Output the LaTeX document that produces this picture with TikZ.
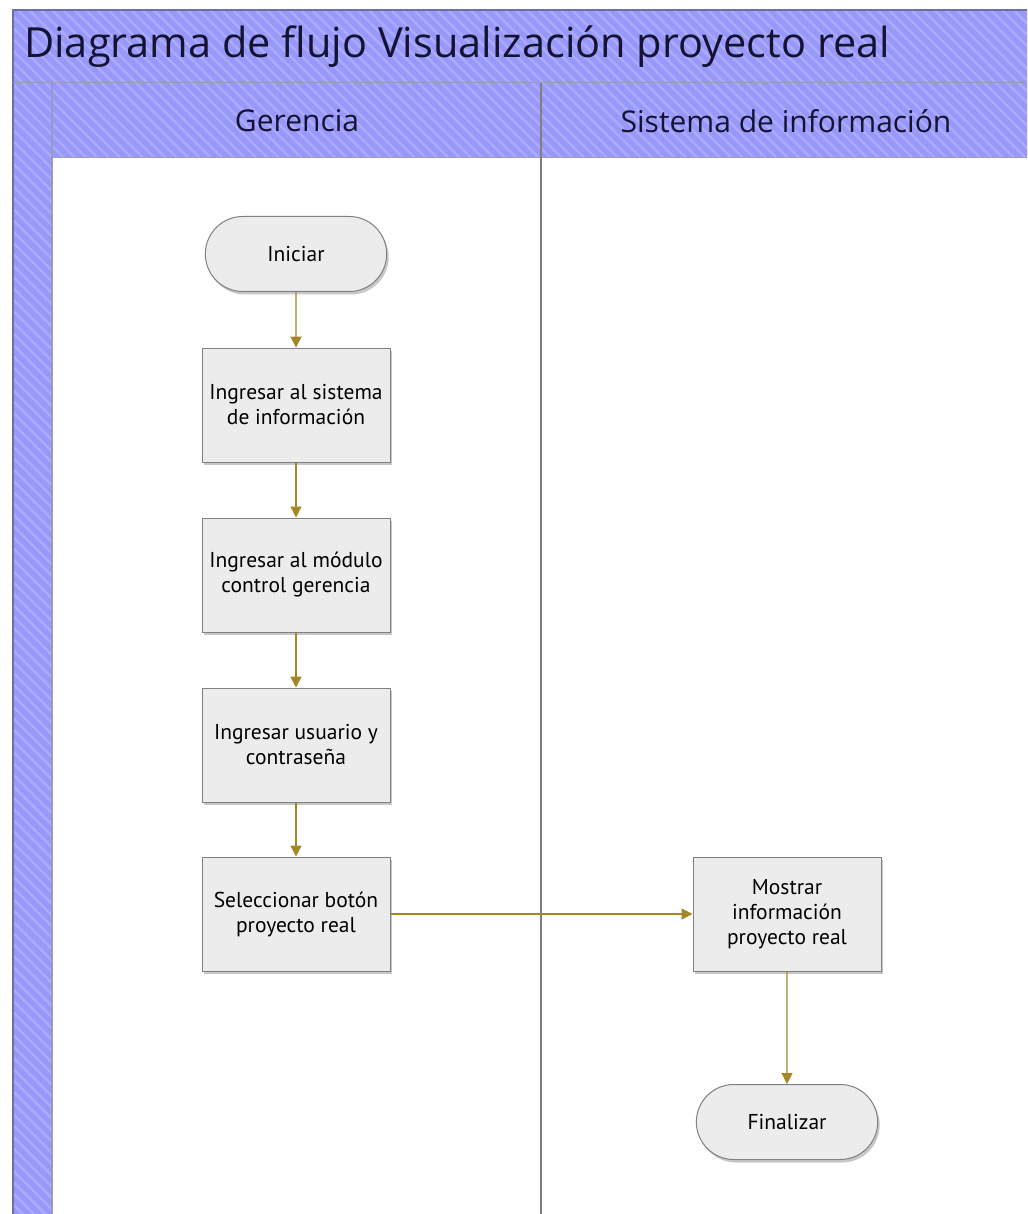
\documentclass[tikz,border=0pt]{standalone}
\usepackage{fontspec}
\setmainfont{Open Sans}
\newfontfamily\nodefont{PT Sans}
\usetikzlibrary{shapes.misc,arrows.meta,patterns.meta}

\definecolor{bandblue}{RGB}{152,152,250}
\definecolor{stripe}{RGB}{170,170,255}
\definecolor{framec}{RGB}{110,110,160}
\definecolor{laneline}{RGB}{128,128,128}
\definecolor{flow}{RGB}{165,135,40}
\definecolor{boxfill}{RGB}{236,236,236}
\definecolor{boxline}{RGB}{128,128,128}
\definecolor{inkc}{RGB}{20,20,50}

\tikzset{
  stepbox/.style={draw=boxline, fill=boxfill, line width=1pt,
    minimum width=188pt, minimum height=114pt, align=center,
    font=\nodefont\fontsize{21.5}{25}\selectfont, text=black,
    preaction={fill=black!22, transform canvas={shift={(2pt,-3pt)}}}},
  termbox/.style={stepbox, rounded rectangle, minimum height=75pt},
  flowline/.style={draw=flow, line width=1.3pt,
    -{Triangle[length=11pt,width=11pt]}},
  hatch/.style={pattern={Lines[angle=-45,distance=8pt,line width=2.5pt]},
    pattern color=stripe},
}

\begin{document}
\begin{tikzpicture}[x=1pt,y=-1pt]
\useasboundingbox (0,0) rectangle (1027,1214);
\fill[white] (0,0) rectangle (1027,1214);

% pool frame: title band, lane headers and left strip
\path[fill=bandblue] (13,10) -- (1027,10) -- (1027,158) -- (52,158)
  -- (52,1214) -- (13,1214) -- cycle;
\path[hatch] (13,10) -- (1027,10) -- (1027,158) -- (52,158)
  -- (52,1214) -- (13,1214) -- cycle;
\draw[framec, line width=1.5pt] (13,1214) -- (13,10) -- (1027,10);
\draw[framec!70, line width=1pt] (13,83) -- (1027,83);
\draw[framec!70, line width=1.5pt] (52,83) -- (52,1214);
\draw[framec!70, line width=1pt] (52,158) -- (1027,158);
\draw[laneline, line width=2pt] (541,83) -- (541,1214);

% titles
\node[anchor=west, inner sep=0pt, text=inkc,
  font=\fontsize{41.5}{48}\selectfont] (title) at (24,47)
  {Diagrama de flujo Visualización proyecto real};
\node[inner sep=0pt, text=inkc, font=\fontsize{30}{36}\selectfont]
  (laneA) at (297,121) {Gerencia};
\node[inner sep=0pt, text=inkc, font=\fontsize{30}{36}\selectfont]
  (laneB) at (786,121) {Sistema de información};

% flow nodes
\node[termbox] (start) at (296,254) {Iniciar};
\node[stepbox] (s1) at (296,405) {Ingresar al sistema\\de información};
\node[stepbox] (s2) at (296,575) {Ingresar al módulo\\control gerencia};
\node[stepbox] (s3) at (296,745) {Ingresar usuario y\\contraseña};
\node[stepbox] (s4) at (296,914) {Seleccionar botón\\proyecto real};
\node[stepbox] (show) at (787,914) {Mostrar\\información\\proyecto real};
\node[termbox] (stop) at (787,1122) {Finalizar};

% connectors
\draw[flowline] (start) -- (s1);
\draw[flowline] (s1) -- (s2);
\draw[flowline] (s2) -- (s3);
\draw[flowline] (s3) -- (s4);
\draw[flowline] (s4) -- (show);
\draw[flowline] (show) -- (stop);
\end{tikzpicture}
\end{document}
